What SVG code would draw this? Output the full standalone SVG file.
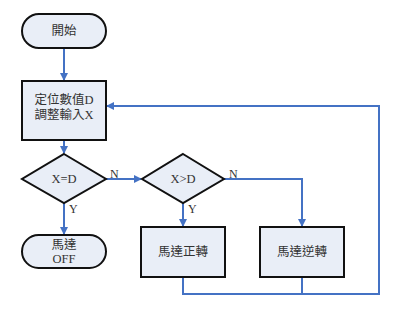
<svg xmlns="http://www.w3.org/2000/svg" width="400" height="310" viewBox="0 0 400 310">
<defs>
<marker id="ah" markerWidth="8" markerHeight="8" refX="7" refY="4" orient="auto" markerUnits="userSpaceOnUse">
<path d="M0,0 L8,4 L0,8 Z" fill="#4472C4"/>
</marker>
<style>
.node{fill:#E9EEF7;stroke:#111;stroke-width:2}
.t{font-family:"Liberation Serif","Noto Sans CJK TC",serif;font-size:12.5px;fill:#333;text-anchor:middle;dominant-baseline:central}
.lbl{font-family:"Liberation Serif",serif;font-size:12px;fill:#333}
.c{fill:none;stroke:#4472C4;stroke-width:2}
</style>
</defs>
<rect width="400" height="310" fill="#fff"/>
<g id="connectors">
<path class="c" d="M64,48 V80" marker-end="url(#ah)"/>
<path class="c" d="M64,140 V153" marker-end="url(#ah)"/>
<path class="c" d="M106,179 H141" marker-end="url(#ah)"/>
<path class="c" d="M64,203 V234" marker-end="url(#ah)"/>
<path class="c" d="M183,203 V226" marker-end="url(#ah)"/>
<path class="c" d="M224,179 H302 V226" marker-end="url(#ah)"/>
<path class="c" d="M183,277 V294 H379 V106 H107" marker-end="url(#ah)"/>
<path class="c" d="M302,277 V294"/>
<text class="lbl" x="110" y="178">N</text>
<text class="lbl" x="69" y="213">Y</text>
<text class="lbl" x="229" y="178">N</text>
<text class="lbl" x="188" y="213">Y</text>
</g>
<g id="start">
<rect class="node" x="22" y="14" width="84" height="34" rx="17"/>
<text class="t" x="64" y="31">開始</text>
</g>
<g id="input">
<rect class="node" x="22" y="81" width="84" height="59"/>
<text class="t" x="64" y="100">定位數值D</text>
<text class="t" x="64" y="115">調整輸入X</text>
</g>
<g id="dec1">
<path class="node" d="M64,154 L106,179 L64,203 L22,179 Z"/>
<text class="t" x="64" y="179">X=D</text>
</g>
<g id="dec2">
<path class="node" d="M183,154 L224,179 L183,203 L142,179 Z"/>
<text class="t" x="183" y="179">X&gt;D</text>
</g>
<g id="off">
<rect class="node" x="22" y="235" width="84" height="33" rx="16.5"/>
<text class="t" x="64" y="245">馬達</text>
<text class="t" x="64" y="259">OFF</text>
</g>
<g id="fwd">
<rect class="node" x="141" y="227" width="84" height="50"/>
<text class="t" x="183" y="252">馬達正轉</text>
</g>
<g id="rev">
<rect class="node" x="260" y="227" width="84" height="50"/>
<text class="t" x="302" y="252">馬達逆轉</text>
</g>
</svg>
